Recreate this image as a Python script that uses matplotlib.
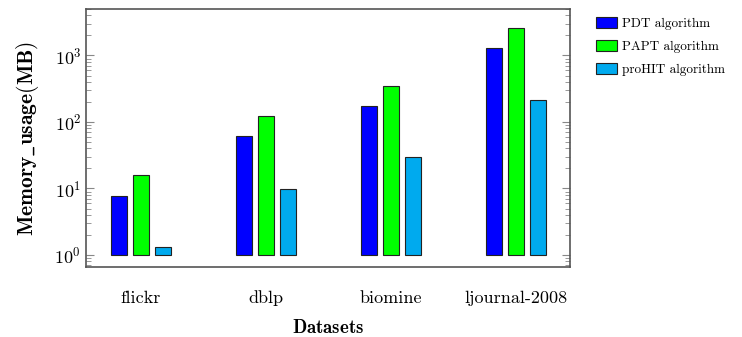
import numpy as np
import matplotlib.pyplot as plt
from matplotlib.ticker import LogLocator, NullFormatter

plt.rcParams['font.family'] = ['cmr10', 'DejaVu Serif']
plt.rcParams['mathtext.fontset'] = 'cm'
plt.rcParams['axes.formatter.use_mathtext'] = True

# Data
datasets = ["flickr", "dblp", "biomine", "ljournal-2008"]
series = ["PDT algorithm", "PAPT algorithm", "proHIT algorithm"]
pdt = [7.7, 62, 175, 1290]
papt = [16, 123, 350, 2570]
prohit = [1.3, 9.8, 30, 214]
colors = ['#0000ff', '#00ff00', '#00aaee']

fig = plt.figure(figsize=(7.42, 3.37), dpi=100)
ax = fig.add_axes([86/742, 70/337, 484/742, 258/337])

x = np.arange(len(datasets))
w = 0.128
off = 0.176
for i, (vals, lab, c) in enumerate(zip([pdt, papt, prohit], series, colors)):
    v = np.array(vals)
    ax.bar(x + (i - 1) * off, v - 1, w, bottom=1, color=c, edgecolor='#222222',
           linewidth=0.8, label=lab)

ax.set_yscale('log')
ax.set_ylim(0.66, 5000)
ax.set_xlim(-0.44, 3.43)
ax.set_xticks(x)
ax.set_xticklabels(datasets, fontsize=13)
ax.tick_params(axis='x', length=0, pad=17)
ax.yaxis.set_major_locator(LogLocator(base=10, numticks=10))
ax.yaxis.set_minor_locator(LogLocator(base=10, subs=np.arange(2, 10), numticks=10))
ax.yaxis.set_minor_formatter(NullFormatter())
ax.tick_params(axis='y', which='both', direction='in', right=True, colors='#888888',
               labelcolor='black', labelsize=13)
ax.tick_params(axis='y', which='major', length=6)
ax.tick_params(axis='y', which='minor', length=3.5)
for s in ax.spines.values():
    s.set_color('#555555')
    s.set_linewidth(1.2)

ax.set_ylabel(r"$\mathbf{Memory\_usage(MB)}$", fontsize=15.5, labelpad=10)
ax.set_xlabel(r"$\mathbf{Datasets}$", fontsize=13.5, labelpad=9)

ax.legend(loc='upper left', bbox_to_anchor=(1.035, 1.005), frameon=False, fontsize=9.5,
          handlelength=1.6, handleheight=0.9, labelspacing=0.75, handletextpad=0.35,
          borderpad=0.2)

fig.savefig("out.png", dpi=100)
